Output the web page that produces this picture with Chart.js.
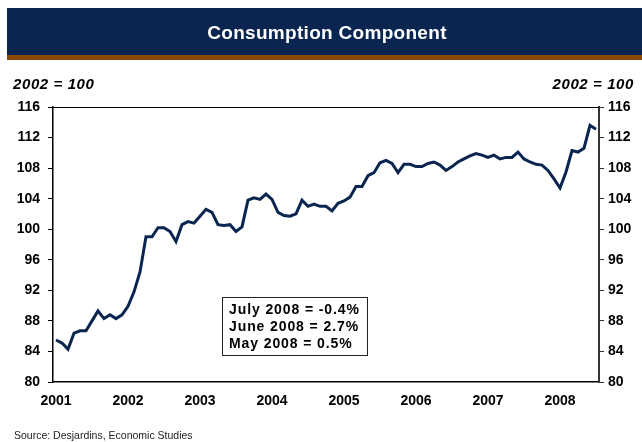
<!DOCTYPE html>
<html>
<head>
<meta charset="utf-8">
<script src="https://cdn.jsdelivr.net/npm/chart.js@4"></script>
<style>
  body { margin: 0; background: #fff; }
  canvas { display: block; }
</style>
</head>
<body>
<canvas id="chart" width="642" height="442"></canvas>
<script>
// monthly index, Jan 2001 .. Jul 2008 (2002 = 100)
const years = ["2001", "2002", "2003", "2004", "2005", "2006", "2007", "2008"];
const consumption = [
    85.5, 85.1, 84.3, 86.4, 86.7, 86.7, 88.0, 89.3, 88.3, 88.8, 88.3, 88.8,
    89.9, 91.8, 94.4, 99.0, 99.0, 100.2, 100.2, 99.7, 98.4, 100.6, 101.0, 100.8,
    101.7, 102.6, 102.2, 100.6, 100.5, 100.6, 99.7, 100.3, 103.8, 104.1, 103.9, 104.6,
    103.9, 102.2, 101.8, 101.7, 102.0, 103.8, 103.0, 103.3, 103.0, 103.0, 102.4, 103.4,
    103.7, 104.2, 105.6, 105.6, 107.0, 107.4, 108.7, 109.0, 108.6, 107.4, 108.5, 108.5,
    108.2, 108.2, 108.6, 108.8, 108.4, 107.7, 108.2, 108.8, 109.2, 109.6, 109.9, 109.7,
    109.4, 109.7, 109.2, 109.4, 109.4, 110.1, 109.2, 108.8, 108.5, 108.4, 107.7, 106.6,
    105.4, 107.5, 110.3, 110.1, 110.6, 113.6, 113.1
];
const noteLines = ["July 2008 = -0.4%", "June 2008 = 2.7%", "May 2008 = 0.5%"];

// month labels "2001-01" ... built from the year list
const months = [];
years.forEach(y => {
    for (let m = 1; m <= 12; m++) months.push(y + "-" + String(m).padStart(2, "0"));
});
months.length = consumption.length;

const NAVY = "#0a2550";
const FONT = "'Liberation Sans', Arial, sans-serif";

const decor = {
    id: "decor",
    beforeDraw(chart) {
        const ctx = chart.ctx;
        ctx.save();
        // header band
        ctx.fillStyle = NAVY;
        ctx.fillRect(7, 8, 642, 47);
        ctx.fillStyle = "#8a4808";
        ctx.fillRect(7, 55, 642, 5);
        ctx.fillStyle = "#fff";
        ctx.font = "bold 19px " + FONT;
        ctx.textAlign = "center";
        ctx.textBaseline = "middle";
        ctx.letterSpacing = "0.3px";
        ctx.fillText("Consumption Component", 327, 34);
        // unit labels
        ctx.fillStyle = "#000";
        ctx.font = "italic bold 15px " + FONT;
        ctx.letterSpacing = "0.6px";
        ctx.textAlign = "left";
        ctx.fillText("2002 = 100", 13, 85);
        ctx.textAlign = "right";
        ctx.fillText("2002 = 100", 634, 85);
        ctx.letterSpacing = "0px";
        // source
        ctx.font = "10.5px " + FONT;
        ctx.fillStyle = "#222";
        ctx.textAlign = "left";
        ctx.fillText("Source: Desjardins, Economic Studies", 14, 436);
        ctx.restore();
    },
    afterDraw(chart) {
        const ctx = chart.ctx;
        const a = chart.chartArea;
        ctx.save();
        // top frame line
        ctx.strokeStyle = "#000";
        ctx.lineWidth = 1;
        ctx.beginPath();
        ctx.moveTo(a.left, a.top + 0.5);
        ctx.lineTo(a.right, a.top + 0.5);
        ctx.stroke();
        // note box
        ctx.fillStyle = "#fff";
        ctx.fillRect(222, 297, 146, 59);
        ctx.strokeStyle = "#222";
        ctx.strokeRect(222.5, 297.5, 145, 58);
        ctx.fillStyle = "#000";
        ctx.font = "bold 14px " + FONT;
        ctx.textAlign = "left";
        ctx.textBaseline = "middle";
        ctx.letterSpacing = "0.9px";
        noteLines.forEach((t, i) => ctx.fillText(t, 229, 310 + i * 17));
        ctx.restore();
    }
};

const tickFont = { family: FONT, size: 14, weight: "bold" };

new Chart(document.getElementById("chart"), {
    type: "line",
    data: {
        labels: months,
        datasets: [{
            data: consumption,
            borderColor: NAVY,
            borderWidth: 3,
            pointRadius: 0,
            tension: 0,
            yAxisID: "y"
        }]
    },
    options: {
        responsive: false,
        animation: false,
        devicePixelRatio: 1,
        layout: { padding: { top: 107, left: 0, right: 0, bottom: 0 } },
        plugins: { legend: { display: false }, tooltip: { enabled: false } },
        scales: {
            x: {
                type: "category",
                offset: true,
                grid: { display: false, drawTicks: false },
                border: { display: true, color: "#000", width: 1.5 },
                ticks: {
                    autoSkip: false,
                    maxRotation: 0,
                    padding: 11,
                    color: "#000",
                    font: tickFont,
                    callback: function (val) {
                        const l = this.getLabelForValue(val);
                        return l.endsWith("-01") ? l.slice(0, 4) : null;
                    }
                },
                afterFit: s => { s.height = 60; }
            },
            y: {
                position: "left",
                min: 80,
                max: 116,
                grid: { drawOnChartArea: false, tickLength: 5, color: "#000" },
                border: { color: "#000", width: 1.5 },
                ticks: { stepSize: 4, padding: 8, color: "#000", font: tickFont },
                afterFit: s => { s.width = 53; }
            },
            y2: {
                position: "right",
                min: 80,
                max: 116,
                grid: { drawOnChartArea: false, tickLength: 5, color: "#333" },
                border: { color: "#333", width: 2 },
                ticks: { stepSize: 4, padding: 4, color: "#000", font: tickFont },
                afterFit: s => { s.width = 43; }
            }
        }
    },
    plugins: [decor]
});
</script>
</body>
</html>
